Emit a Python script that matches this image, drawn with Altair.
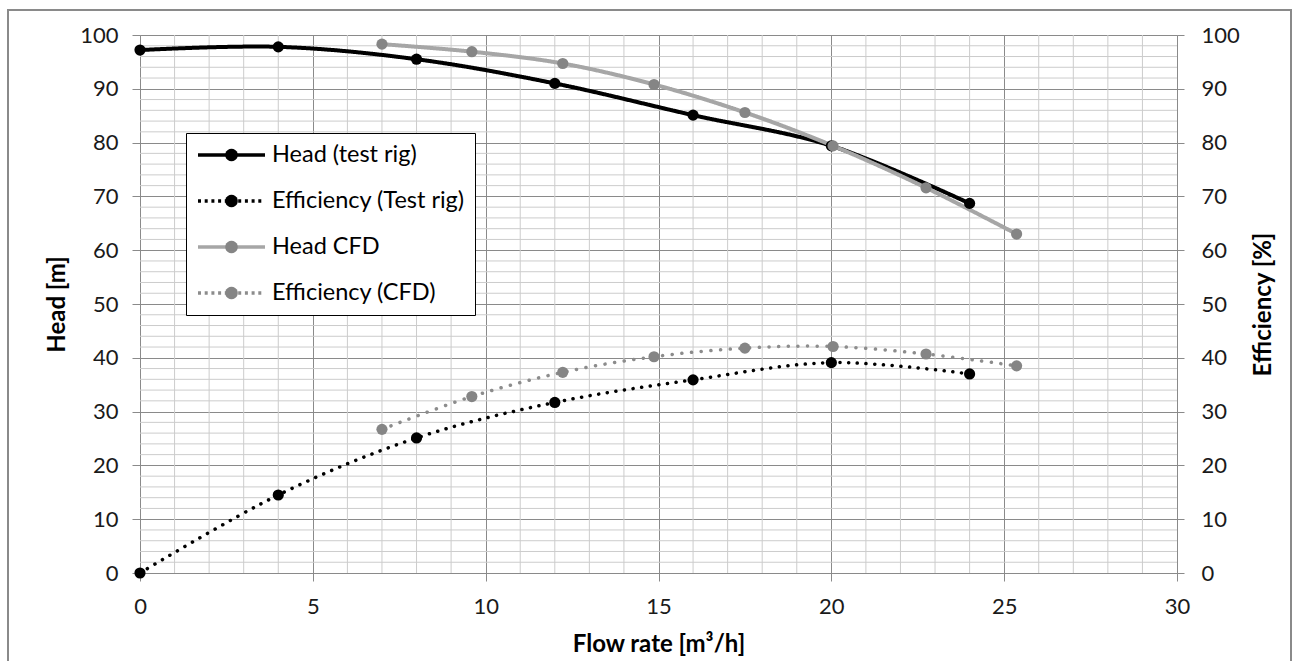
import math
import altair as alt
import pandas as pd

# ---------------- data ----------------
flow_test = [0, 4, 8, 12, 16, 20, 24]
head_test = [97.2, 97.8, 95.5, 91.0, 85.1, 79.4, 68.7]
eff_test = [0.0, 14.5, 25.1, 31.7, 35.9, 39.1, 37.0]

flow_cfd = [7.0, 9.6, 12.23, 14.87, 17.5, 20.05, 22.74, 25.36]
head_cfd = [98.3, 96.9, 94.7, 90.8, 85.6, 79.4, 71.6, 63.0]
eff_cfd = [26.7, 32.8, 37.3, 40.2, 41.8, 42.1, 40.7, 38.5]

series_names = ["Head (test rig)", "Efficiency (Test rig)", "Head CFD", "Efficiency (CFD)"]
marker_keys = ["m1", "m2", "m3", "m4"]

x_ticks = [0, 5, 10, 15, 20, 25, 30]
y_ticks = [0, 10, 20, 30, 40, 50, 60, 70, 80, 90, 100]
x_minor = [v for v in range(0, 31) if v % 5 != 0]
y_minor = [v for v in range(0, 101, 2) if v % 10 != 0]

# ---------------- tables ----------------
rows = []
for f, v in zip(flow_test, head_test):
    rows.append({"flow": f, "value": v, "series": series_names[0]})
for f, v in zip(flow_test, eff_test):
    rows.append({"flow": f, "value": v, "series": series_names[1]})
for f, v in zip(flow_cfd, head_cfd):
    rows.append({"flow": f, "value": v, "series": series_names[2]})
for f, v in zip(flow_cfd, eff_cfd):
    rows.append({"flow": f, "value": v, "series": series_names[3]})
df = pd.DataFrame(rows)
df["marker"] = df["series"].map(dict(zip(series_names, marker_keys)))

xminor_df = pd.DataFrame({"v": x_minor})
yminor_df = pd.DataFrame({"w": y_minor})

# ---------------- styles ----------------
FONT = "Lato"
MAJOR = "#8a8a8a"
MINOR = "#cccccc"
BLACK = "#000000"
GRAY_LINE = "#a6a6a6"
GRAY_PT = "#858585"
GRAY_DOT = "#8c8c8c"
TITLE_SIZE = 24

x_scale = alt.Scale(domain=[0, 30], nice=False, zero=False)
y_scale = alt.Scale(domain=[0, 100], nice=False, zero=False)

x_axis = alt.Axis(
    title="Flow rate [m³/h]", values=x_ticks, grid=True, gridColor=MAJOR, gridWidth=1,
    domainColor=MAJOR, domainWidth=1, tickColor=MAJOR, tickSize=8, labelFlush=False,
    labelFont=FONT, labelFontSize=22, labelColor="#1a1a1a", labelPadding=15,
    titleFont=FONT, titleFontSize=TITLE_SIZE, titleFontWeight="bold", titleColor="#000000",
    titlePadding=15, format="d",
)
y_axis_left = alt.Axis(
    title="Head [m]", values=y_ticks, grid=True, gridColor=MAJOR, gridWidth=1,
    domainColor=MAJOR, domainWidth=1, tickColor=MAJOR, tickSize=8, labelFlush=False,
    labelFont=FONT, labelFontSize=22, labelColor="#1a1a1a", labelPadding=14,
    titleFont=FONT, titleFontSize=TITLE_SIZE, titleFontWeight="bold", titleColor="#000000",
    titlePadding=10, format="d",
)
y_axis_right = alt.Axis(
    title="Efficiency [%]", orient="right", values=y_ticks, grid=False,
    domainColor=MAJOR, domainWidth=1, tickColor=MAJOR, tickSize=7, labelFlush=False,
    labelFont=FONT, labelFontSize=22, labelColor="#1a1a1a", labelPadding=17,
    titleFont=FONT, titleFontSize=TITLE_SIZE, titleFontWeight="bold", titleColor="#000000",
    titlePadding=36, titleAngle=270, format="d",
)

X = alt.X("flow:Q", scale=x_scale, axis=x_axis)
YL = alt.Y("value:Q", scale=y_scale, axis=y_axis_left)
YR = alt.Y("value:Q", scale=y_scale, axis=y_axis_right)

# ---------------- minor grid ----------------
grid_x = alt.Chart(xminor_df).mark_rule(color=MINOR, strokeWidth=1).encode(
    x=alt.X("v:Q", scale=x_scale, axis=x_axis)
)
grid_y = alt.Chart(yminor_df).mark_rule(color=MINOR, strokeWidth=1).encode(
    y=alt.Y("w:Q", scale=y_scale, axis=y_axis_left)
)

frame = alt.Chart(alt.Data(values=[{"k": 1}])).mark_rect(
    filled=False, stroke="#8a8a8a", strokeWidth=2
).encode(
    x=alt.value(-132), x2=alt.value(1151), y=alt.value(-25), y2=alt.value(700)
)

base = alt.Chart(df)


def line_layer(name, color, width, dash, Y):
    return base.transform_filter(alt.datum.series == name).mark_line(
        color=color, strokeWidth=width, strokeDash=dash, strokeCap="round",
        interpolate="cardinal",
    ).encode(x=X, y=Y)


def point_layer(name, color, size, Y):
    return base.transform_filter(alt.datum.series == name).mark_circle(
        color=color, size=size, opacity=1
    ).encode(x=X, y=Y)


head_test_line = line_layer(series_names[0], BLACK, 4, [1, 0], YL)
head_test_pts = point_layer(series_names[0], BLACK, 125, YL)
head_cfd_line = line_layer(series_names[2], GRAY_LINE, 4, [1, 0], YL)
head_cfd_pts = point_layer(series_names[2], GRAY_PT, 125, YL)

eff_test_line = line_layer(series_names[1], BLACK, 3.5, [0.1, 8.6], YR)
eff_test_pts = point_layer(series_names[1], BLACK, 125, YR)
eff_cfd_line = line_layer(series_names[3], GRAY_DOT, 3.5, [0.1, 9.6], YR)
eff_cfd_pts = point_layer(series_names[3], GRAY_PT, 125, YR)

# ---------------- legend (native legends, overlaid) ----------------
r = 6.3 / 33.5
poly = []
for i in range(20):
    a = 2 * math.pi * i / 20
    poly.append(f"{r * math.cos(a):.4f},{r * math.sin(a):.4f}")
circle_path = "M" + " L".join(poly) + " Z"

legend_common = dict(
    orient="none", legendX=46, legendY=98, title=None, symbolSize=4489,
    symbolStrokeWidth=3.5, clipHeight=24, rowPadding=22, padding=10,
    labelFont=FONT, labelFontSize=23.5, labelOffset=5, labelLimit=500,
)
leg_lines = alt.Legend(symbolType="stroke", fillColor="white", strokeColor="black",
                       labelColor="#000000", **legend_common)
leg_dots = alt.Legend(symbolType=circle_path, labelExpr="''",
                      symbolStrokeColor="transparent", **legend_common)

legend_lines = base.transform_filter("false").mark_line().encode(
    x=X, y=YL,
    color=alt.Color("series:N", sort=None, legend=leg_lines,
                    scale=alt.Scale(domain=series_names,
                                    range=[BLACK, BLACK, GRAY_LINE, GRAY_DOT])),
    strokeDash=alt.StrokeDash("series:N", sort=None, legend=leg_lines,
                              scale=alt.Scale(domain=series_names,
                                              range=[[1, 0], [3, 3.7], [1, 0], [3, 3.7]])),
)
legend_dots = base.transform_filter("false").mark_circle(opacity=1).encode(
    x=X, y=YL,
    fill=alt.Fill("marker:N", sort=None, legend=leg_dots,
                  scale=alt.Scale(domain=marker_keys,
                                  range=[BLACK, BLACK, GRAY_PT, GRAY_PT])),
)

left = alt.layer(frame, grid_x, grid_y, head_test_line, head_cfd_line,
                 head_test_pts, head_cfd_pts, legend_lines, legend_dots)
right = alt.layer(eff_test_line, eff_test_pts, eff_cfd_line, eff_cfd_pts)

chart = alt.layer(left, right).resolve_scale(y="independent").properties(
    width=1037, height=538,
    padding={"left": 140, "top": 35, "right": 121, "bottom": 88},
    autosize=alt.AutoSizeParams(type="none"),
    background="white",
).configure_view(strokeWidth=0)

chart.save("out.html", embed_options={"renderer": "svg", "actions": False})
